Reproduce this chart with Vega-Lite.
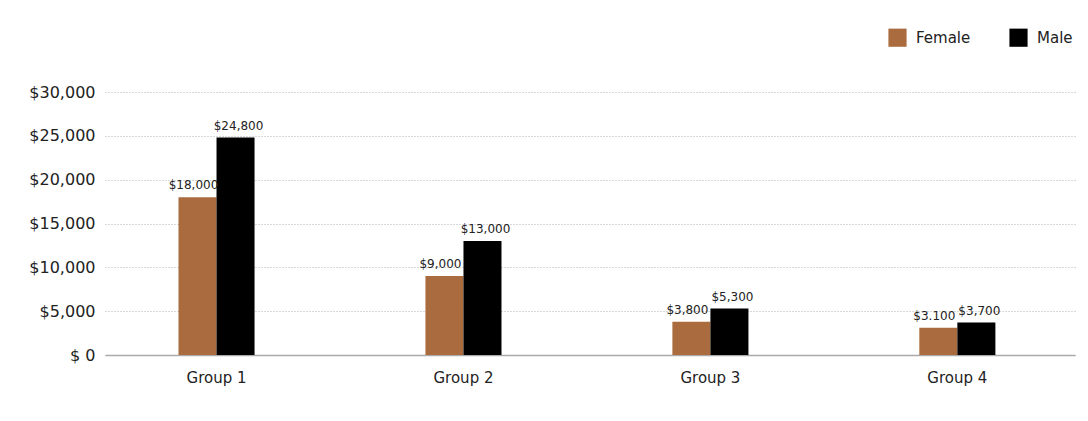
{
  "$schema": "https://vega.github.io/schema/vega-lite/v6.json",
  "autosize": {"type": "none"},
  "padding": {"left": 105, "top": 92, "right": 13, "bottom": 66},
  "width": 970,
  "height": 263,
  "background": "white",
  "config": {
    "font": "DejaVu Sans",
    "view": {"stroke": null}
  },
  "data": {
    "values": [
      {"group": "Group 1", "sex": "Female", "value": 18000, "label": "$18,000"},
      {"group": "Group 1", "sex": "Male", "value": 24800, "label": "$24,800"},
      {"group": "Group 2", "sex": "Female", "value": 9000, "label": "$9,000"},
      {"group": "Group 2", "sex": "Male", "value": 13000, "label": "$13,000"},
      {"group": "Group 3", "sex": "Female", "value": 3800, "label": "$3,800"},
      {"group": "Group 3", "sex": "Male", "value": 5300, "label": "$5,300"},
      {"group": "Group 4", "sex": "Female", "value": 3100, "label": "$3.100"},
      {"group": "Group 4", "sex": "Male", "value": 3700, "label": "$3,700"}
    ]
  },
  "encoding": {
    "x": {
      "field": "group",
      "type": "nominal",
      "scale": {"paddingInner": 0.692, "paddingOuter": 0.31, "align": 0.48},
      "axis": {
        "title": null,
        "labelAngle": 0,
        "labelFontSize": 15,
        "labelColor": "#222",
        "labelPadding": 15,
        "ticks": false,
        "domainColor": "#aaaaaa",
        "domainWidth": 1.5,
        "grid": false
      }
    },
    "xOffset": {"field": "sex", "type": "nominal", "scale": {"domain": ["Female", "Male"], "paddingInner": 0, "paddingOuter": 0}},
    "y": {
      "field": "value",
      "type": "quantitative",
      "scale": {"domain": [0, 30000], "nice": false},
      "axis": {
        "title": null,
        "values": [0, 5000, 10000, 15000, 20000, 25000, 30000],
        "labelExpr": "datum.value == 0 ? '$ 0' : '$' + format(datum.value, ',')",
        "labelFontSize": 16,
        "labelColor": "#222",
        "labelPadding": 10,
        "ticks": false,
        "domain": false,
        "gridColor": "#b0b0b0",
        "gridDash": [1, 2],
        "gridWidth": 1
      }
    }
  },
  "layer": [
    {
      "mark": {"type": "bar"},
      "encoding": {
        "color": {
          "field": "sex",
          "type": "nominal",
          "scale": {"domain": ["Female", "Male"], "range": ["#AA6C3E", "#000000"]},
          "legend": {
            "title": null,
            "orient": "none",
            "direction": "horizontal",
            "legendX": 783,
            "legendY": -64,
            "symbolType": "square",
            "symbolSize": 330,
            "symbolStrokeWidth": 0,
            "labelFontSize": 15,
            "labelColor": "#222",
            "columnPadding": 38,
            "labelOffset": 9
          }
        }
      }
    },
    {
      "transform": [{"filter": "datum.sex == 'Female'"}],
      "mark": {"type": "text", "baseline": "bottom", "dy": -5, "dx": -4, "fontSize": 12, "color": "#222"},
      "encoding": {
        "text": {"field": "label"}
      }
    },
    {
      "transform": [{"filter": "datum.sex == 'Male'"}],
      "mark": {"type": "text", "baseline": "bottom", "dy": -5, "dx": 3, "fontSize": 12, "color": "#222"},
      "encoding": {
        "text": {"field": "label"}
      }
    }
  ]
}
